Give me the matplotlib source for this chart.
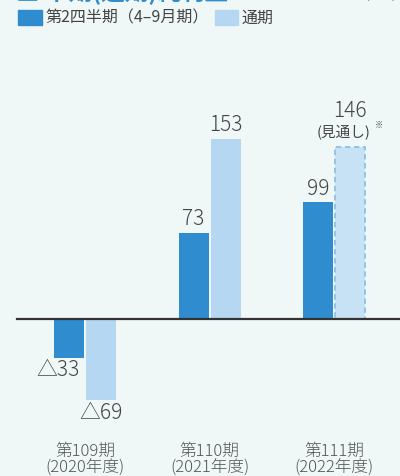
import numpy as np
import matplotlib.pyplot as plt
from matplotlib.patches import Patch

plt.rcParams['font.family'] = ['Noto Sans CJK JP', 'DejaVu Sans']

periods = ['第109期\n(2020年度)', '第110期\n(2021年度)', '第111期\n(2022年度)']
q2_values = [-33, 73, 99]
full_values = [-69, 153, 146]
full_forecast = [False, False, True]

dark = '#2e8ccf'
light = '#b5d7f1'
bg = '#f0f8f7'
txt = '#444444'

fig = plt.figure(figsize=(4, 4.76), dpi=100, facecolor=bg)
ax = fig.add_axes([0, 0, 1, 1])
ax.set_facecolor(bg)

x = np.arange(len(periods))
w = 0.241
off = 0.1285

ax.bar(x - off, q2_values, w, color=dark, zorder=2)
for xi, v, fc in zip(x, full_values, full_forecast):
    if fc:
        ax.bar(xi + off, v, w, color='#c7e1f5', edgecolor='#8cc0ea',
               linestyle=(0, (3, 2)), linewidth=1.3, zorder=2)
    else:
        ax.bar(xi + off, v, w, color=light, zorder=2)

ax.plot([-0.546, 2.6], [0, 0], color='#333333', lw=1.6, zorder=3)


def fmt(v):
    return '△' + str(-v) if v < 0 else str(v)


lab = dict(fontsize=15, color=txt, fontweight='light')

for xi, v in zip(x, q2_values):
    if v >= 0:
        ax.annotate(fmt(v), (xi - off, v), xytext=(0, 2), textcoords='offset points',
                    ha='center', va='bottom', **lab)
    else:
        ax.annotate(fmt(v), (xi - off - 0.09, v), xytext=(0, -1), textcoords='offset points',
                    ha='center', va='top', **lab)
for xi, v, fc in zip(x, full_values, full_forecast):
    if fc:
        ax.annotate('(見通し)', (xi + off - 0.05, v), xytext=(0, 5), textcoords='offset points',
                    ha='center', va='bottom', fontsize=10.5, color=txt)
        ax.annotate('※', (xi + off + 0.23, v), xytext=(0, 12), textcoords='offset points',
                    ha='center', va='bottom', fontsize=6, color=txt)
        ax.annotate(fmt(v), (xi + off, v), xytext=(0, 18), textcoords='offset points',
                    ha='center', va='bottom', **lab)
    elif v >= 0:
        ax.annotate(fmt(v), (xi + off, v), xytext=(0, 2), textcoords='offset points',
                    ha='center', va='bottom', **lab)
    else:
        ax.annotate(fmt(v), (xi + off, v), xytext=(0, -1), textcoords='offset points',
                    ha='center', va='top', **lab)

for xi, p in zip(x, periods):
    ax.text(xi, -119.7, p, ha='center', va='center', fontsize=12, color='#555555',
            linespacing=0.95, fontweight='light')

ax.set_xlim(-0.683, 2.530)
ax.set_ylim(-133.3, 270.8)
ax.axis('off')

# title cut off at the top of the picture
fig.text(0.04, 1 + 8 / 476, '■ 半期(通期)純利益', color=dark, fontsize=17, fontweight='bold',
         ha='left', va='center')
fig.text(0.99, 1 + 5 / 476, '(億円)', color='#666666', fontsize=8, ha='right', va='center')

handles = [Patch(color=dark, label='第2四半期（4–9月期）'), Patch(color=light, label='通期')]
fig.legend(handles=handles, loc='upper left', bbox_to_anchor=(0.03, 0.993), ncol=2,
           frameon=False, fontsize=11.5, handlelength=1.5, handleheight=1.1,
           handletextpad=0.2, columnspacing=0.35, labelcolor='#444444', borderaxespad=0)

fig.savefig('out.png', dpi=100, facecolor=bg)
